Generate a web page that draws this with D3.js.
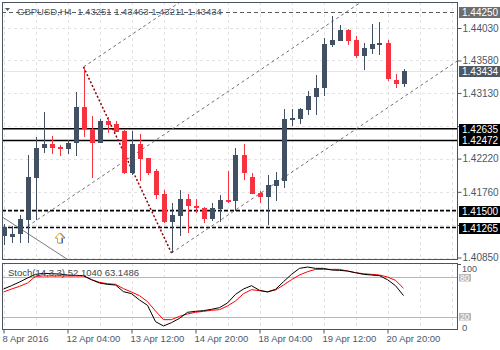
<!DOCTYPE html>
<html>
<head>
<meta charset="utf-8">
<script src="https://cdn.jsdelivr.net/npm/d3@7"></script>
<style>
  html, body { margin: 0; padding: 0; background: #fff; }
  svg { display: block; font-family: "Liberation Sans", Arial, sans-serif; }
</style>
</head>
<body>
<svg id="chart" width="500" height="350"></svg>
<script>
// GBPUSD H4 candles, 8 Apr 20:00 .. 21 Apr 04:00 (bar index 0..50)
const symbol = "GBPUSD";
const period = "H4";

const opens = [1.41148,1.41134,1.41176,1.41370,1.41952,1.42367,1.42423,1.42381,1.42353,1.42437,
  1.42935,1.42631,1.42437,1.42741,1.42700,1.42603,1.42021,1.42423,1.42229,1.42049,
  1.41730,1.41342,1.41425,1.41661,1.41564,1.41536,1.41384,1.41522,1.41647,1.41633,
  1.42270,1.41965,1.41744,1.41688,1.41841,1.41910,1.42755,1.42769,1.42894,1.43074,
  1.43199,1.43794,1.43850,1.44002,1.43864,1.43642,1.43739,1.43794,1.43822,1.43309,1.43251];

const highs = [1.41314,1.41287,1.41439,1.42270,1.42520,1.42866,1.42534,1.42409,1.42478,1.43143,
  1.43490,1.42811,1.42769,1.42797,1.42741,1.42617,1.42603,1.42561,1.42229,1.42076,
  1.41785,1.41605,1.41785,1.41730,1.41661,1.41550,1.41605,1.41716,1.42049,1.42367,
  1.42423,1.42021,1.41771,1.41993,1.42035,1.42908,1.42908,1.42922,1.43157,1.43379,
  1.43891,1.44196,1.44072,1.44016,1.43919,1.43822,1.44085,1.44113,1.43864,1.43393,1.43463];

const lows = [1.41023,1.41051,1.41051,1.41051,1.41370,1.42298,1.42284,1.42256,1.42284,1.42256,
  1.42520,1.41952,1.42437,1.42575,1.42589,1.42007,1.41993,1.41910,1.41993,1.41661,
  1.41328,1.40912,1.41148,1.41190,1.41467,1.41328,1.41356,1.41342,1.41605,1.41494,
  1.41924,1.41730,1.41605,1.41300,1.41633,1.41813,1.42672,1.42700,1.42825,1.42825,
  1.43088,1.43767,1.43850,1.43794,1.43614,1.43448,1.43670,1.43656,1.43296,1.43199,1.43211];

const closes = [1.41273,1.41176,1.41384,1.41965,1.42367,1.42423,1.42367,1.42353,1.42437,1.42935,
  1.42631,1.42437,1.42741,1.42686,1.42589,1.42021,1.42423,1.42215,1.42021,1.41716,
  1.41342,1.41439,1.41661,1.41564,1.41536,1.41384,1.41536,1.41647,1.41619,1.42270,
  1.42021,1.41730,1.41688,1.41855,1.41924,1.42769,1.42783,1.42908,1.43088,1.43199,
  1.43808,1.43864,1.44002,1.43850,1.43642,1.43753,1.43808,1.43822,1.43323,1.43251,1.43434];

// Stochastic (14,3,3): main line and signal line
const stochMain = [62,67,72.5,78.5,84,85.5,85,84.5,83,82.5,
  82,76,71,69,68,58,55,45.5,37.5,13,
  6.5,11.5,18,27,28.5,29.5,31.5,34,41,54,
  62,67,60,57.5,61.5,73,84,93,95,93,
  93,90.5,90,89,86.5,84,83,82,76,67,52.1040];
const stochSignal = [57.5,62,66,71,81,81.5,81.5,81.5,81.5,81.5,
  81.5,76,72,70,69,62.5,57.5,52,43,29,
  16,16,21,24.5,27,28.5,30,31,36.5,44,
  55,61,59.5,58,60.5,68,76,83,88,91.5,
  91.5,91.5,91.5,89,86.5,85,84,83,80,75,63.1486];
const stochLevels = [80, 20];

// Axis ticks
const priceTicks = [1.44030, 1.43580, 1.43130, 1.42670, 1.42220, 1.41760, 1.41300, 1.40850];
const timeTickBars = [0, 8, 16, 24, 32, 40, 48];
const timeTickLabels = ["8 Apr 2016", "12 Apr 04:00", "13 Apr 12:00", "14 Apr 20:00",
  "18 Apr 04:00", "19 Apr 12:00", "20 Apr 20:00"];

// Horizontal levels
const solidLevels = [1.42635, 1.42472];
const dashedLevels = [1.41500, 1.41265];
const upperLevel = 1.44250;

// Trend objects: [bar, price] anchors
const channelSlope = 0.000745;           // price per bar
const channelStarts = [[21, 1.40912], [10, 1.43490], [3, 1.41282]];
const zigzag = [[10, 1.43490], [21, 1.40912]];
const fallingLine = [[0, 1.41400], [8, 1.40824]];
const buyArrow = [7, 1.41190];

// ---------------------------------------------------------------
const svg = d3.select("#chart");
const main = { left: 2, right: 457, top: 2, bottom: 259 };
const sub = { left: 2, right: 457, top: 263, bottom: 329 };

const x = d3.scaleLinear().domain([0, 50]).range([3.5, 403.5]);
const y = d3.scaleLinear().domain([1.40850, 1.44030]).range([257.5, 28]);
const ys = d3.scaleLinear().domain([0, 100]).range([330.3, 263.7]);

const borderColor = "#4a5561";
const textColor = "#4a5866";
const bullColor = "#415062";
const bearColor = "#f5323f";
const gridColor = "#e3e3e3";

const defs = svg.append("defs");
defs.append("clipPath").attr("id", "clipMain").append("rect")
  .attr("x", main.left).attr("y", main.top)
  .attr("width", main.right - main.left).attr("height", main.bottom - main.top);
defs.append("clipPath").attr("id", "clipSub").append("rect")
  .attr("x", sub.left).attr("y", sub.top)
  .attr("width", sub.right - sub.left).attr("height", sub.bottom - sub.top);

// Grid
const gridBars = d3.range(0, 57, 4);
const gMain = svg.append("g").attr("clip-path", "url(#clipMain)");
const gSub = svg.append("g").attr("clip-path", "url(#clipSub)");

[[gMain, main], [gSub, sub]].forEach(([g, p]) => {
  g.selectAll(null).data(gridBars).join("line")
    .attr("x1", d => Math.round(x(d)) + 0.5).attr("x2", d => Math.round(x(d)) + 0.5)
    .attr("y1", p.top).attr("y2", p.bottom)
    .attr("stroke", gridColor).attr("stroke-dasharray", "3,3");
});
gMain.selectAll(null).data(priceTicks).join("line")
  .attr("x1", main.left).attr("x2", main.right)
  .attr("y1", d => Math.round(y(d)) + 0.5).attr("y2", d => Math.round(y(d)) + 0.5)
  .attr("stroke", gridColor).attr("stroke-dasharray", "3,3");

// Last price line
gMain.append("line")
  .attr("x1", main.left).attr("x2", main.right)
  .attr("y1", Math.round(y(closes[50])) + 0.5).attr("y2", Math.round(y(closes[50])) + 0.5)
  .attr("stroke", "#e4e4e4");

// Upper dashed level
gMain.append("line")
  .attr("x1", main.left).attr("x2", main.right)
  .attr("y1", Math.round(y(upperLevel)) + 0.5).attr("y2", Math.round(y(upperLevel)) + 0.5)
  .attr("stroke", "#5a5a5a").attr("stroke-dasharray", "4,3");

// Support / resistance levels
gMain.selectAll(null).data(solidLevels).join("line")
  .attr("x1", main.left).attr("x2", main.right)
  .attr("y1", d => y(d)).attr("y2", d => y(d))
  .attr("stroke", "#000").attr("stroke-width", 1.6);
gMain.selectAll(null).data(dashedLevels).join("line")
  .attr("x1", main.left).attr("x2", main.right)
  .attr("y1", d => y(d)).attr("y2", d => y(d))
  .attr("stroke", "#000").attr("stroke-width", 1.6).attr("stroke-dasharray", "4,2");

// Channel rays
gMain.selectAll(null).data(channelStarts).join("line")
  .attr("x1", d => x(d[0])).attr("y1", d => y(d[1]))
  .attr("x2", d => x(d[0] + 80)).attr("y2", d => y(d[1] + 80 * channelSlope))
  .attr("stroke", "#6f6f6f").attr("stroke-dasharray", "3,3");

// Falling trend line
const fSlope = (fallingLine[1][1] - fallingLine[0][1]) / (fallingLine[1][0] - fallingLine[0][0]);
gMain.append("line")
  .attr("x1", x(-2)).attr("y1", y(fallingLine[0][1] - 2 * fSlope))
  .attr("x2", x(12)).attr("y2", y(fallingLine[0][1] + 12 * fSlope))
  .attr("stroke", "#7a7a7a");

// Zigzag leg
gMain.append("line")
  .attr("x1", x(zigzag[0][0])).attr("y1", y(zigzag[0][1]))
  .attr("x2", x(zigzag[1][0])).attr("y2", y(zigzag[1][1]))
  .attr("stroke", "#8b0000").attr("stroke-width", 1.5).attr("stroke-dasharray", "2,2");

// Candles
const bars = d3.range(opens.length);
const cg = gMain.append("g");
cg.selectAll(null).data(bars).join("rect")
  .attr("x", i => Math.round(x(i)) - 0.5).attr("width", 1)
  .attr("y", i => Math.round(y(highs[i])))
  .attr("height", i => Math.max(1, Math.round(y(lows[i])) - Math.round(y(highs[i]))))
  .attr("fill", i => closes[i] >= opens[i] ? bullColor : bearColor)
  .attr("shape-rendering", "crispEdges");
cg.selectAll(null).data(bars).join("rect")
  .attr("x", i => Math.round(x(i)) - 2.5).attr("width", 5)
  .attr("y", i => Math.round(y(Math.max(opens[i], closes[i]))))
  .attr("height", i => Math.max(2, Math.round(y(Math.min(opens[i], closes[i]))) - Math.round(y(Math.max(opens[i], closes[i])))))
  .attr("fill", i => closes[i] >= opens[i] ? bullColor : bearColor)
  .attr("shape-rendering", "crispEdges");

// Buy arrow
const ax = x(buyArrow[0]), ay = y(buyArrow[1]);
const arrowPath = "M0,0 L4.5,5 L2,5 L2,10 L-2,10 L-2,5 L-4.5,5 Z";
gMain.append("path").attr("d", arrowPath)
  .attr("transform", `translate(${ax + 1},${ay})`)
  .attr("fill", "none").attr("stroke", "#2a6fd6").attr("stroke-width", 1);
gMain.append("path").attr("d", arrowPath)
  .attr("transform", `translate(${ax},${ay})`)
  .attr("fill", "#fff").attr("stroke", "#f0a020").attr("stroke-width", 1);

// Stochastic panel
gSub.selectAll(null).data(stochLevels).join("line")
  .attr("x1", sub.left).attr("x2", sub.right)
  .attr("y1", d => Math.round(ys(d)) + 0.5).attr("y2", d => Math.round(ys(d)) + 0.5)
  .attr("stroke", "#b8b8b8");
const lineK = d3.line().x((d, i) => x(i)).y(d => ys(d));
gSub.append("path").attr("d", lineK(stochSignal))
  .attr("fill", "none").attr("stroke", "#ff0000").attr("stroke-width", 1);
gSub.append("path").attr("d", lineK(stochMain))
  .attr("fill", "none").attr("stroke", "#000").attr("stroke-width", 1);

svg.append("text")
  .attr("x", 8).attr("y", 276)
  .attr("font-size", "9.5px").attr("fill", "#3c4650")
  .text(`Stoch(14,3,3) ${stochMain[50].toFixed(4)} ${stochSignal[50].toFixed(4)}`);

// Panel borders
[main, sub].forEach(p => {
  svg.append("rect")
    .attr("x", p.left + 0.5).attr("y", p.top + 0.5)
    .attr("width", p.right - p.left).attr("height", p.bottom - p.top)
    .attr("fill", "none").attr("stroke", borderColor);
});

// Price tags (drawn over the scale; scale labels they cover are left blank)
const tags = [
  { p: upperLevel, fill: "#6e6e6e" },
  { p: closes[50], fill: "#4d5864" },
  ...solidLevels.map(p => ({ p, fill: "#000" })),
  ...dashedLevels.map(p => ({ p, fill: "#000" }))
];
const coveredByTag = v => tags.some(t => Math.abs(y(t.p) - y(v)) < 8);

// Price axis
const yAxis = d3.axisRight(y).tickValues(priceTicks).tickSize(4).tickPadding(1)
  .tickFormat(v => coveredByTag(v) ? "" : d3.format(".5f")(v));
const ya = svg.append("g").attr("transform", `translate(${main.right + 0.5},0)`).call(yAxis);
ya.select(".domain").remove();
ya.selectAll(".tick line").attr("stroke", borderColor);
ya.selectAll(".tick text").attr("fill", textColor).attr("font-size", "10px")
  .attr("font-family", "Liberation Sans, Arial, sans-serif");

const tg = svg.append("g");
tags.forEach(t => {
  const cy = y(t.p);
  tg.append("rect").attr("x", 459).attr("y", Math.round(cy) - 5).attr("width", 45).attr("height", 11)
    .attr("fill", t.fill).attr("shape-rendering", "crispEdges");
  tg.append("text").attr("x", 462).attr("y", Math.round(cy) + 4)
    .attr("font-size", "10px").attr("fill", "#fff").text(t.p.toFixed(5));
});

// Stochastic scale labels: 100 / 0 at the ends, level tags for 80 / 20
svg.append("text").attr("x", 462).attr("y", 271.5)
  .attr("font-size", "9px").attr("fill", textColor).text("100");
svg.append("text").attr("x", 462).attr("y", 330.5)
  .attr("font-size", "9.5px").attr("fill", textColor).text("0");
stochLevels.forEach(l => {
  const cy = Math.round(ys(l));
  const shift = l > 50 ? 0.5 : -0.5;
  svg.append("rect").attr("x", 459).attr("y", cy - 3.5 + shift).attr("width", 12).attr("height", 7.5)
    .attr("fill", "#b8b8b8");
  svg.append("text").attr("x", 460).attr("y", cy + 3.2 + shift)
    .attr("font-size", "8.5px").attr("fill", "#fff").text(l);
});
svg.append("line").attr("x1", 457.5).attr("x2", 461).attr("y1", Math.round(ys(100)) + 0.5)
  .attr("y2", Math.round(ys(100)) + 0.5).attr("stroke", borderColor);

// Time axis
const xAxis = d3.axisBottom(x).tickValues(timeTickBars).tickSize(4).tickPadding(2)
  .tickFormat((d, i) => timeTickLabels[i]);
const xa = svg.append("g").attr("transform", `translate(0,${sub.bottom + 0.5})`).call(xAxis);
xa.select(".domain").remove();
xa.selectAll(".tick line").attr("stroke", borderColor);
xa.selectAll(".tick text").attr("fill", textColor).attr("font-size", "9.5px")
  .attr("font-family", "Liberation Sans, Arial, sans-serif")
  .attr("text-anchor", "start").attr("x", -1.5);

// Title
svg.append("path").attr("d", "M5,8 L10,8 L7.5,11 Z").attr("fill", textColor);
svg.append("text").attr("x", 17).attr("y", 15)
  .attr("font-size", "9.5px").attr("fill", textColor)
  .attr("xml:space", "preserve")
  .text(`${symbol},${period}  ${opens[50].toFixed(5)} ${highs[50].toFixed(5)} ${lows[50].toFixed(5)} ${closes[50].toFixed(5)}`);
</script>
</body>
</html>
